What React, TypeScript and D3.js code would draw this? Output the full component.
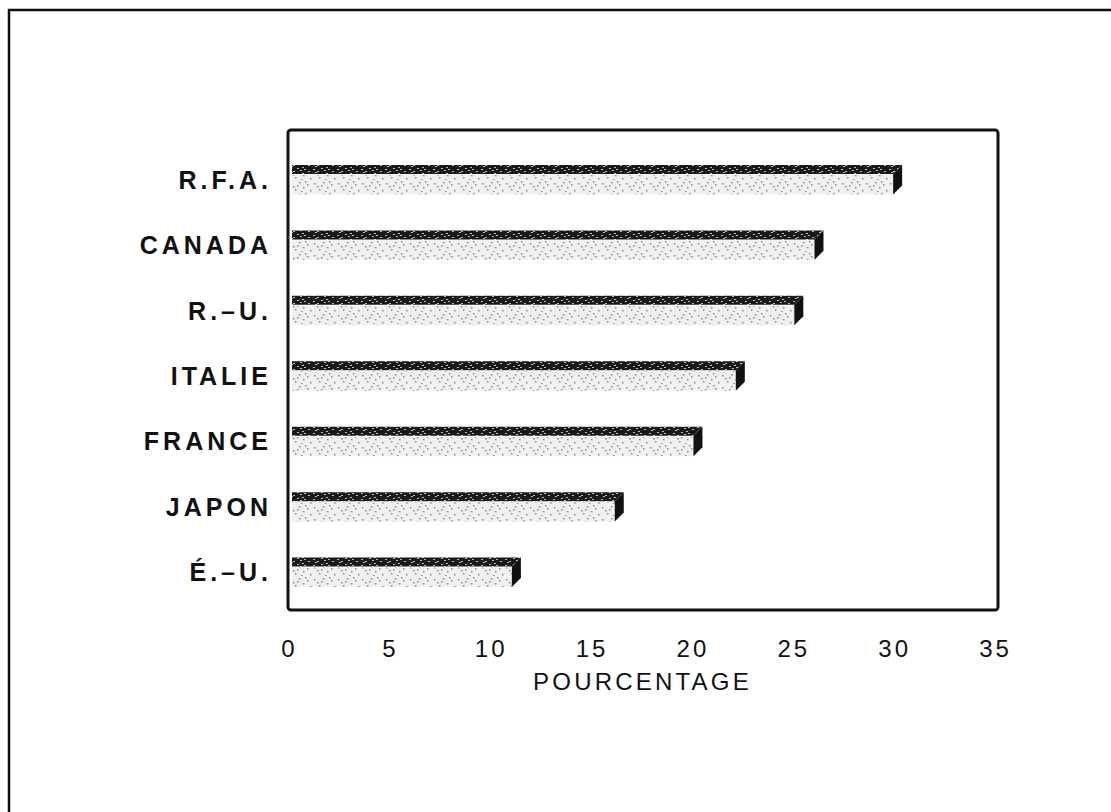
import React from "react";
import * as d3 from "d3";

const countries = ["R.F.A.", "CANADA", "R.–U.", "ITALIE", "FRANCE", "JAPON", "É.–U."];
const percentages = [30.0, 26.1, 25.1, 22.2, 20.1, 16.2, 11.1];
const xTicks = [0, 5, 10, 15, 20, 25, 30, 35];
const xTitle = "POURCENTAGE";

const W = 1111;
const H = 812;
const box = { left: 288, top: 130, right: 998, bottom: 610 };
const depth = 9;

// texture dots for the bar faces
const frontDots = [
  [2, 3], [7, 9], [11, 2], [15, 7], [19, 4], [22, 10], [5, 6], [13, 11], [17, 1], [9, 5],
];
const topDots = [
  [1, 1], [5, 3], [9, 0], [12, 2], [16, 1], [20, 3], [3, 4], [14, 5],
];

export default function App() {
  const x = d3.scaleLinear().domain([0, 35]).range([box.left, 994]);
  const y = d3
    .scaleBand()
    .domain(countries)
    .range([147, 605])
    .paddingInner(0.55)
    .paddingOuter(0.275);
  const bh = y.bandwidth();
  const font = "'Liberation Sans', Arial, Helvetica, sans-serif";

  return (
    <svg
      width={W}
      height={H}
      style={{ position: "absolute", left: 0, top: 0, background: "#fff" }}
    >
      <defs>
        <pattern id="front" width={24} height={12} patternUnits="userSpaceOnUse">
          <rect width={24} height={12} fill="#f0f0f0" />
          {frontDots.map(([px, py], i) => (
            <rect key={i} x={px} y={py} width={1.5} height={1.5} fill="#888" />
          ))}
        </pattern>
        <pattern id="top" width={24} height={6} patternUnits="userSpaceOnUse">
          <rect width={24} height={6} fill="#1a1a1a" />
          {topDots.map(([px, py], i) => (
            <rect key={i} x={px} y={py} width={2} height={1} fill="#bbb" />
          ))}
        </pattern>
      </defs>

      {/* outer frame */}
      <rect x={9} y={10} width={1120} height={820} fill="none" stroke="#111" strokeWidth={2.5} />

      {/* bars */}
      {countries.map((c, i) => {
        const y0 = y(c) as number;
        const x0 = x(0) + 4;
        const xv = x(percentages[i]);
        return (
          <g key={c}>
            <polygon
              points={`${x0},${y0} ${xv + depth},${y0} ${xv},${y0 + depth} ${x0},${y0 + depth}`}
              fill="url(#top)"
            />
            <rect x={x0} y={y0 + depth + 1} width={xv - x0} height={bh - depth - 1} fill="url(#front)" />
            <polygon
              points={`${xv},${y0 + depth} ${xv + depth},${y0} ${xv + depth},${y0 + bh - depth} ${xv},${y0 + bh}`}
              fill="#111"
            />
          </g>
        );
      })}

      {/* plot frame */}
      <rect
        x={box.left}
        y={box.top}
        width={box.right - box.left}
        height={box.bottom - box.top}
        rx={3}
        fill="none"
        stroke="#111"
        strokeWidth={3}
      />

      {/* category labels */}
      {countries.map((c) => (
        <text
          key={c}
          x={268 + 4}
          y={(y(c) as number) + bh / 2 + 9}
          textAnchor="end"
          fontFamily={font}
          fontWeight="bold"
          fontSize={25}
          letterSpacing={4}
          fill="#111"
        >
          {c}
        </text>
      ))}

      {/* x tick labels */}
      {xTicks.map((t) => (
        <text
          key={t}
          x={x(t) + 1.5}
          y={657}
          textAnchor="middle"
          fontFamily={font}
          fontSize={24}
          letterSpacing={3}
          fill="#111"
        >
          {t}
        </text>
      ))}

      <text
        x={(x(0) + x(35)) / 2 + 1.5}
        y={690}
        textAnchor="middle"
        fontFamily={font}
        fontSize={24}
        letterSpacing={3.2}
        fill="#111"
      >
        {xTitle}
      </text>
    </svg>
  );
}
